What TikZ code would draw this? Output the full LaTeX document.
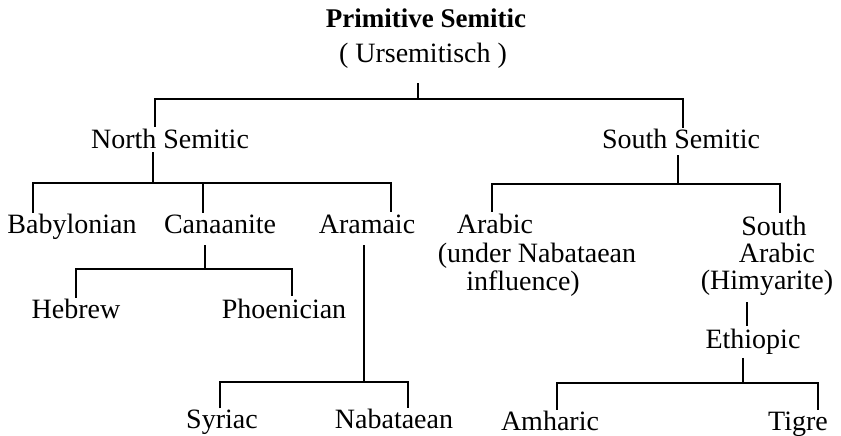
\documentclass[tikz,border=0pt]{standalone}
\usepackage{fontspec}
\setmainfont{Liberation Serif}
\tikzset{
  lbl/.style={inner sep=0pt, outer sep=0pt, anchor=base, font=\fontsize{28}{29}\selectfont},
  ttl/.style={lbl, font=\fontsize{27}{29}\selectfont\bfseries},
  ln/.style={line width=1.4pt, line cap=butt, line join=miter},
  down/.style={ln, shorten <=#1},
  into/.style={shorten >=1.5pt}
}
\begin{document}
\begin{tikzpicture}[x=1pt,y=-1pt]
\useasboundingbox[fill=white] (0,0) rectangle (841,436);
% nodes
\node[ttl] (ps)  at (426,28)  {Primitive Semitic};
\node[lbl] (urs) at (423,63)  {( Ursemitisch )};
\node[lbl] (ns)  at (170,148) {North Semitic};
\node[lbl] (ss)  at (681,148) {South Semitic};
\node[lbl] (bab) at (72,233)  {Babylonian};
\node[lbl] (can) at (220,233) {Canaanite};
\node[lbl] (ara) at (367,233) {Aramaic};
\node[lbl] (arb) at (495,233) {Arabic};
\node[lbl] (arbb) at (537,262) {(under Nabataean};
\node[lbl] (arbc) at (523,290) {influence)};
\node[lbl] (sa)  at (774,235) {South};
\node[lbl] (sab) at (777,262) {Arabic};
\node[lbl] (sac) at (767,289) {(Himyarite)};
\node[lbl] (eth) at (753,348) {Ethiopic};
\node[lbl] (heb) at (76,318)  {Hebrew};
\node[lbl] (pho) at (284,318) {Phoenician};
\node[lbl] (syr) at (222,428) {Syriac};
\node[lbl] (nab) at (394,428) {Nabataean};
\node[lbl] (amh) at (550,430) {Amharic};
\node[lbl] (tig) at (798,430) {Tigre};
% junction coordinates
\coordinate (jt) at (418,99);
\coordinate (tL) at (155,99);
\coordinate (tR) at (683,99);
\coordinate (nD) at (153,183);
\coordinate (nL) at (33,183);
\coordinate (nM) at (203,183);
\coordinate (nR) at (391,183);
\coordinate (sD) at (678,184);
\coordinate (sL) at (492,184);
\coordinate (sR) at (780,184);
\coordinate (cD) at (205,269);
\coordinate (cL) at (76,269);
\coordinate (cR) at (292,269);
\coordinate (aD) at (364,382);
\coordinate (aL) at (220,382);
\coordinate (aR) at (408,382);
\coordinate (hD) at (747,302);
\coordinate (eD) at (743,383);
\coordinate (eL) at (557,383);
\coordinate (eR) at (818,383);
% connectors
\draw[ln, shorten >=14pt] (jt) -- (jt |- urs.south);
\draw[ln, shorten <=2pt, shorten >=1pt] (ns.north -| tL) -- (tL) -- (tR) -- (tR |- ss.north);
\draw[down=4pt] (ns.south -| nD) -- (nD);
\draw[ln, into] (nM) -- (nM |- can.north);
\draw[ln, shorten <=1pt, shorten >=2pt] (bab.north -| nL) -- (nL) -- (nR) -- (nR |- ara.north);
\draw[down=7pt] (ss.south -| sD) -- (sD);
\draw[ln, shorten <=2pt, shorten >=3pt] (arb.north -| sL) -- (sL) -- (sR) -- (sR |- sa.north);
\draw[down=12pt] (can.south -| cD) -- (cD);
\draw[ln, shorten <=1pt, shorten >=3pt] (heb.north -| cL) -- (cL) -- (cR) -- (cR |- pho.north);
\draw[down=12pt] (ara.south -| aD) -- (aD);
\draw[ln, shorten <=1pt, shorten >=1pt] (syr.north -| aL) -- (aL) -- (aR) -- (aR |- nab.north);
\draw[ln, shorten <=7pt, shorten >=3pt] (sac.south -| hD) -- (hD |- eth.north);
\draw[down=4pt] (eth.south -| eD) -- (eD);
\draw[ln, shorten <=1pt, shorten >=1pt] (amh.north -| eL) -- (eL) -- (eR) -- (eR |- tig.north);
\end{tikzpicture}
\end{document}
